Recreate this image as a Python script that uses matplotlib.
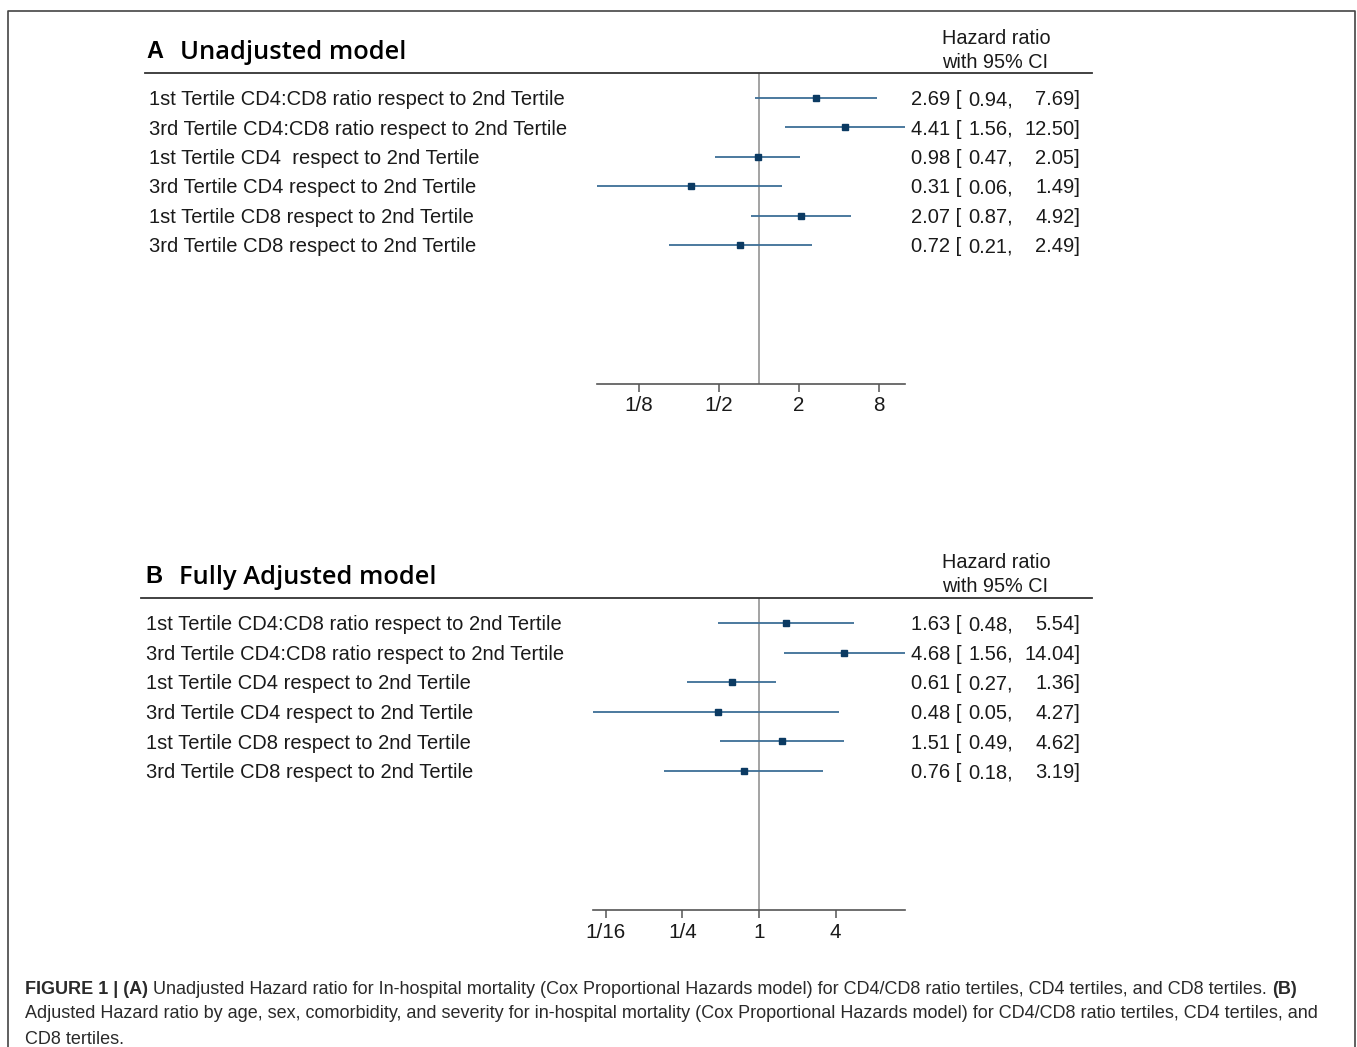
import matplotlib
matplotlib.use("Agg")
import matplotlib.pyplot as plt
import matplotlib.transforms as mtransforms
import numpy as np

# ---------------- data ----------------
labels_a = [
    "1st Tertile CD4:CD8 ratio respect to 2nd Tertile",
    "3rd Tertile CD4:CD8 ratio respect to 2nd Tertile",
    "1st Tertile CD4  respect to 2nd Tertile",
    "3rd Tertile CD4 respect to 2nd Tertile",
    "1st Tertile CD8 respect to 2nd Tertile",
    "3rd Tertile CD8 respect to 2nd Tertile",
]
hr_a = [2.69, 4.41, 0.98, 0.31, 2.07, 0.72]
lo_a = [0.94, 1.56, 0.47, 0.06, 0.87, 0.21]
hi_a = [7.69, 12.50, 2.05, 1.49, 4.92, 2.49]
ticks_a = [1/8, 1/2, 2, 8]
ticklabels_a = ["1/8", "1/2", "2", "8"]

labels_b = [
    "1st Tertile CD4:CD8 ratio respect to 2nd Tertile",
    "3rd Tertile CD4:CD8 ratio respect to 2nd Tertile",
    "1st Tertile CD4 respect to 2nd Tertile",
    "3rd Tertile CD4 respect to 2nd Tertile",
    "1st Tertile CD8 respect to 2nd Tertile",
    "3rd Tertile CD8 respect to 2nd Tertile",
]
hr_b = [1.63, 4.68, 0.61, 0.48, 1.51, 0.76]
lo_b = [0.48, 1.56, 0.27, 0.05, 0.49, 0.18]
hi_b = [5.54, 14.04, 1.36, 4.27, 4.62, 3.19]
ticks_b = [1/16, 1/4, 1, 4]
ticklabels_b = ["1/16", "1/4", "1", "4"]

title_a = "Unadjusted model"
title_b = "Fully Adjusted model"
header = ["Hazard ratio", "with 95% CI"]

caption_l1 = [("FIGURE 1 | (A)", "bold"),
              (" Unadjusted Hazard ratio for In-hospital mortality (Cox Proportional Hazards model) for CD4/CD8 ratio tertiles, CD4 tertiles, and CD8 tertiles. ", "normal"),
              ("(B)", "bold")]
caption_l2 = "Adjusted Hazard ratio by age, sex, comorbidity, and severity for in-hospital mortality (Cox Proportional Hazards model) for CD4/CD8 ratio tertiles, CD4 tertiles, and"
caption_l3 = "CD8 tertiles."

# ---------------- figure ----------------
W, H = 1357, 1047
fig = plt.figure(figsize=(W/100, H/100), dpi=100)
fig.patch.set_facecolor("white")
renderer = fig.canvas.get_renderer()

def fx(x): return x / W
def fy(y): return 1 - y / H

def fit(text, target, **kw):
    t = fig.text(0, 0, text, fontsize=10, **kw)
    w = t.get_window_extent(renderer).width
    t.remove()
    return 10 * target / w

SANS = "Liberation Sans"
TITLEF = "Open Sans"
fs_row = fit(labels_a[0], 415, family=SANS)
fs_title = fit(title_a, 227, family=TITLEF, weight="semibold")
fs_head = fit(header[0], 109, family=SANS)
fs_cap = fit(caption_l2, 1296, family=SANS)

LINE_C = "#3d6e96"
MARK_C = "#0b3a62"
TEXT_C = "#1a1a1a"

# baseline offset so that the cap height is centred on the row
cap_px = 0.716 * fs_row * 100 / 72
base_off = mtransforms.ScaledTranslation(0, -cap_px / 2 / 100, fig.dpi_scale_trans)

# border
fig.add_artist(plt.Line2D([fx(8), fx(8), fx(1355), fx(1355)],
                          [fy(1047), fy(11), fy(11), fy(1047)],
                          color="#444444", lw=1.2, transform=fig.transFigure))

def panel(letter, title, labels, hr, lo, hi, ticks, ticklabels,
          y_rule, y_row0, dy, y_axis, px_per_doubling, x_rule0, x_title_letter, x_title, x_label):
    xmin, xmax = min(lo), max(hi)
    left = 759 + px_per_doubling * np.log2(xmin)
    right = 759 + px_per_doubling * np.log2(xmax)
    ax = fig.add_axes([fx(left), fy(y_axis), (right - left) / W, (y_axis - y_rule) / H])
    ax.set_xscale("log")
    ax.set_xlim(xmin, xmax)
    top = -(y_row0 - y_rule) / dy
    bot = (y_axis - y_row0) / dy
    ax.set_ylim(bot, top)
    ax.patch.set_alpha(0)
    for s in ["top", "right", "left"]:
        ax.spines[s].set_visible(False)
    ax.spines["bottom"].set_color("#555555")
    ax.spines["bottom"].set_linewidth(1.2)
    ax.set_yticks([])
    ax.set_xticks(ticks)
    ax.set_xticklabels(ticklabels)
    ax.xaxis.set_minor_locator(matplotlib.ticker.NullLocator())
    ax.tick_params(axis="x", direction="out", length=6, width=1.1, color="#555555",
                   labelsize=fs_row * 1.03, pad=3, labelcolor=TEXT_C)
    for t in ax.get_xticklabels():
        t.set_family(SANS)
    ax.axvline(1, color="#8a8a8a", lw=1.1, zorder=1)
    y = np.arange(len(labels))
    for i in range(len(labels)):
        ax.plot([lo[i], hi[i]], [y[i], y[i]], color=LINE_C, lw=1.3, zorder=2, solid_capstyle="butt")
    ax.plot(hr, y, "s", color=MARK_C, ms=4.5, zorder=3)

    tr = mtransforms.blended_transform_factory(fig.transFigure, ax.transData) + base_off
    for i, lab in enumerate(labels):
        fig.text(fx(x_label), y[i], lab, transform=tr, family=SANS, fontsize=fs_row,
                 va="baseline", ha="left", color=TEXT_C)
        fig.text(fx(911), y[i], f"{hr[i]:.2f} [", transform=tr, family=SANS, fontsize=fs_row,
                 va="baseline", ha="left", color=TEXT_C)
        fig.text(fx(1013), y[i], f"{lo[i]:.2f},", transform=tr, family=SANS, fontsize=fs_row,
                 va="baseline", ha="right", color=TEXT_C)
        fig.text(fx(1080), y[i], f"{hi[i]:.2f}]", transform=tr, family=SANS, fontsize=fs_row,
                 va="baseline", ha="right", color=TEXT_C)
    # rule
    fig.add_artist(plt.Line2D([fx(x_rule0), fx(1092)], [fy(y_rule), fy(y_rule)],
                              color="#333333", lw=1.3, transform=fig.transFigure))
    # title
    fig.text(fx(x_title_letter), fy(y_rule - 24), letter, family=SANS, weight="bold",
             fontsize=fs_title * 0.92, va="center_baseline", ha="left", color="black")
    fig.text(fx(x_title), fy(y_rule - 24), title, family=TITLEF, weight="semibold",
             fontsize=fs_title, va="center_baseline", ha="left", color="black")
    fig.text(fx(942), fy(y_rule - 37), header[0], family=SANS, fontsize=fs_head,
             va="center_baseline", ha="left", color=TEXT_C)
    fig.text(fx(942), fy(y_rule - 13), header[1], family=SANS, fontsize=fs_head,
             va="center_baseline", ha="left", color=TEXT_C)
    return ax

panel("A", title_a, labels_a, hr_a, lo_a, hi_a, ticks_a, ticklabels_a,
      y_rule=73, y_row0=98, dy=29.4, y_axis=384, px_per_doubling=40.0,
      x_rule0=145, x_title_letter=146, x_title=180, x_label=149)
panel("B", title_b, labels_b, hr_b, lo_b, hi_b, ticks_b, ticklabels_b,
      y_rule=598, y_row0=623, dy=29.6, y_axis=910, px_per_doubling=38.3,
      x_rule0=141, x_title_letter=145, x_title=179, x_label=146)

# caption
CAP_C = "#2a2a2a"
x = fx(25)
for txt, wt in caption_l1:
    t = fig.text(x, fy(987), txt, family=SANS, weight=wt, fontsize=fs_cap,
                 va="center_baseline", ha="left", color=CAP_C)
    bb = t.get_window_extent(renderer)
    x = fig.transFigure.inverted().transform((bb.x1, 0))[0]
fig.text(fx(25), fy(1012), caption_l2, family=SANS, fontsize=fs_cap, va="center_baseline", ha="left", color=CAP_C)
fig.text(fx(25), fy(1037), caption_l3, family=SANS, fontsize=fs_cap, va="center_baseline", ha="left", color=CAP_C)

fig.savefig("out.png", dpi=100, facecolor="white")
